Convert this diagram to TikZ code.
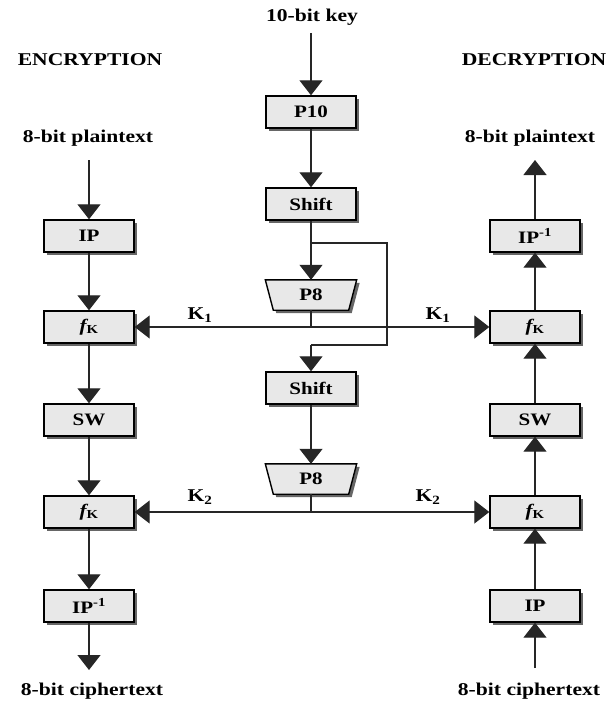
\documentclass[tikz,border=0pt]{standalone}
\usepackage{fontspec}
\setmainfont{Liberation Serif}[FakeStretch=1.2]
\usetikzlibrary{arrows.meta,shapes.geometric,shadows}
\newcommand\fkk{{\itshape f}\textsubscript{K}}
\begin{document}
\begin{tikzpicture}[x=1pt,y=-1pt,
  shad/.style={drop shadow={shadow xshift=3pt, shadow yshift=-3pt, fill=black!60, opacity=1}},
  blk/.style={draw, line width=1.4pt, fill=gray!18, minimum width=90pt, minimum height=32pt, inner sep=0pt,
    font=\fontsize{17.5}{17.5}\selectfont\bfseries, shad},
  trapbox/.style={minimum width=91pt, minimum height=30pt, inner sep=0pt,
    font=\fontsize{17.5}{17.5}\selectfont\bfseries},
  trapline/.style={draw, line width=1.4pt, fill=gray!18, shad},
  lbl/.style={inner sep=0pt, font=\fontsize{18}{18}\selectfont\bfseries},
  ln/.style={line width=1.3pt, black!85},
  arr/.style={ln, -{Triangle[length=15pt,width=23pt]}}]
\useasboundingbox (0,0) rectangle (613,706);
% labels
\node[lbl] (key) at (312,17) {10-bit key};
\node[lbl] (enc) at (90,60) {ENCRYPTION};
\node[lbl] (dec) at (534,60) {DECRYPTION};
\node[lbl] (pl) at (88,138) {8-bit plaintext};
\node[lbl] (pr) at (530,138) {8-bit plaintext};
\node[lbl] (cl) at (92,691) {8-bit ciphertext};
\node[lbl] (cr) at (529,691) {8-bit ciphertext};
% left column
\node[blk] (ipl) at (89,236) {IP};
\node[blk] (fkal) at (89,327) {\fkk};
\node[blk] (swl) at (89,420) {SW};
\node[blk] (fkbl) at (89,512) {\fkk};
\node[blk] (ipil) at (89,606) {IP\textsuperscript{-1}};
% right column
\node[blk] (ipir) at (535,236) {IP\textsuperscript{-1}};
\node[blk] (fkar) at (535,327) {\fkk};
\node[blk] (swr) at (535,420) {SW};
\node[blk] (fkbr) at (535,512) {\fkk};
\node[blk] (ipr) at (535,606) {IP};
% center column
\node[blk] (p10) at (311,112) {P10};
\node[blk] (sha) at (311,204) {Shift};
\node[trapbox] (p8a) at (311,295) {};
\node[blk] (shb) at (311,388) {Shift};
\node[trapbox] (p8b) at (311,479) {};
\path[trapline] (p8a.north west) -- (p8a.north east) -- ([xshift=-8pt]p8a.south east) -- ([xshift=8pt]p8a.south west) -- cycle;
\path[trapline] (p8b.north west) -- (p8b.north east) -- ([xshift=-8pt]p8b.south east) -- ([xshift=8pt]p8b.south west) -- cycle;
\node[trapbox] (p8at) at (p8a.center) {P8};
\node[trapbox] (p8bt) at (p8b.center) {P8};
% key labels
\node[lbl] (kal) at (200,315) {K\textsubscript{1}};
\node[lbl] (kar) at (438,315) {K\textsubscript{1}};
\node[lbl] (kbl) at (200,497) {K\textsubscript{2}};
\node[lbl] (kbr) at (428,497) {K\textsubscript{2}};
% coordinates
\coordinate (plend) at (89,160);
\coordinate (clend) at (89,670);
\coordinate (crst) at (535,668);
\coordinate (prend) at (535,160);
\coordinate (keyst) at (311,33);
\coordinate (br) at (311,243);
\coordinate (brr) at (387,243);
\coordinate (brl) at (311,345);
\coordinate (ka) at (p8a.south |- fkal.east);
\coordinate (kb) at (p8b.south |- fkbl.east);
% left connectors
\draw[arr] (plend) -- (ipl.north);
\draw[arr] (ipl.south) -- (fkal.north);
\draw[arr] (fkal.south) -- (swl.north);
\draw[arr] (swl.south) -- (fkbl.north);
\draw[arr] (fkbl.south) -- (ipil.north);
\draw[arr] (ipil.south) -- (clend);
% right connectors
\draw[arr] (crst) -- (ipr.south);
\draw[arr] (ipr.north) -- (fkbr.south);
\draw[arr] (fkbr.north) -- (swr.south);
\draw[arr] (swr.north) -- (fkar.south);
\draw[arr] (fkar.north) -- (ipir.south);
\draw[arr] (ipir.north) -- (prend);
% center connectors
\draw[arr] (keyst) -- (p10.north);
\draw[arr] (p10.south) -- (sha.north);
\draw[arr] (sha.south) -- (p8a.north);
\draw[ln] (br) -- (brr) |- (brl);
\draw[arr] (brl) -- (shb.north);
\draw[arr] (shb.south) -- (p8b.north);
\draw[ln] (p8a.south) -- (ka);
\draw[arr] (ka) -- (fkal.east);
\draw[arr] (ka) -- (fkar.west);
\draw[ln] (p8b.south) -- (kb);
\draw[arr] (kb) -- (fkbl.east);
\draw[arr] (kb) -- (fkbr.west);
\end{tikzpicture}
\end{document}
